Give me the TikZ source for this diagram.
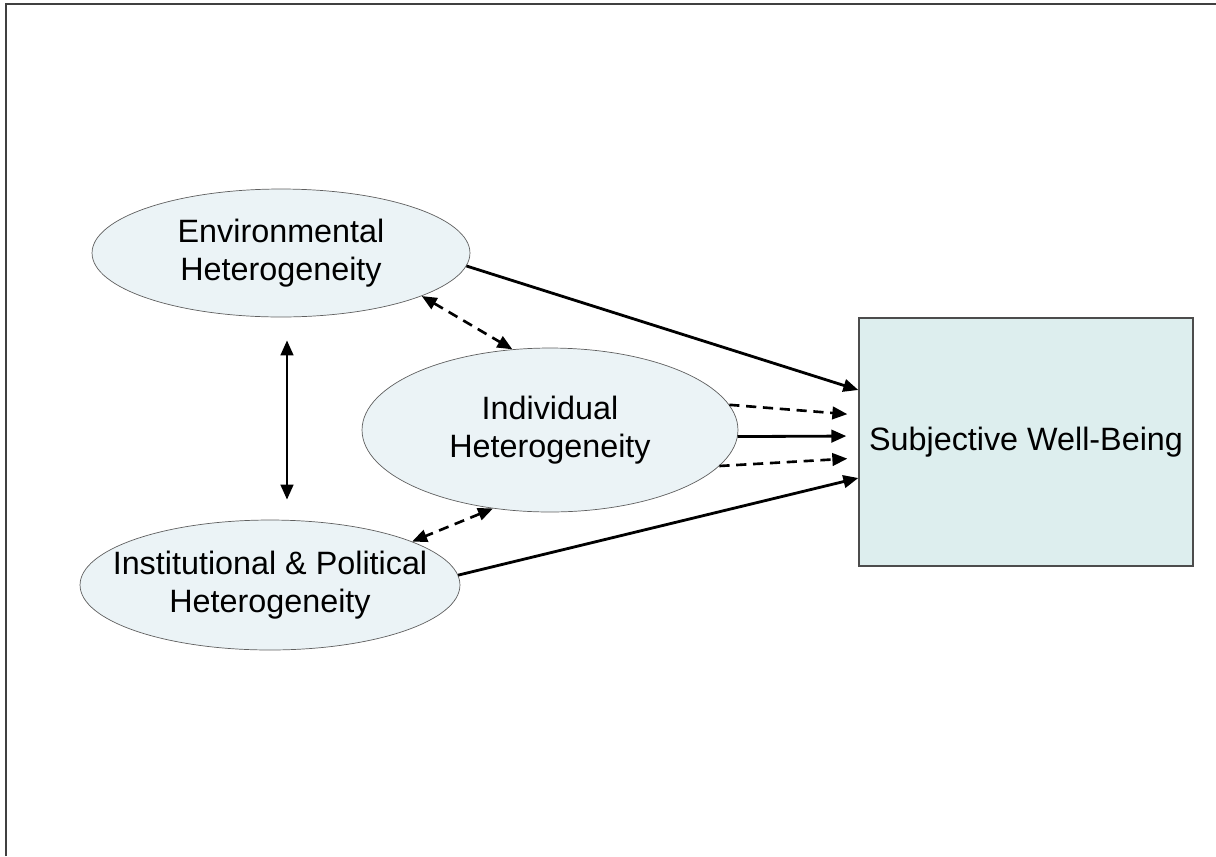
\documentclass[tikz,border=0pt]{standalone}
\usepackage{fontspec}
\setmainfont{Liberation Sans}
\usetikzlibrary{shapes.geometric,arrows.meta}
\definecolor{ovalfill}{RGB}{235,243,246}
\definecolor{boxfill}{RGB}{221,238,238}
\definecolor{rimgray}{RGB}{95,95,95}
\def\drawsolid{\draw[line width=1.6pt]}
\def\drawdashed{\draw[line width=1.5pt,dash pattern=on 5.8pt off 3.8pt]}
\def\heteronode{\node[ellipse,draw=rimgray,fill=ovalfill,inner sep=0pt,minimum width=7.56cm,minimum height=2.56cm]}

\begin{document}
\begin{tikzpicture}[x=0.02cm,y=-0.02cm,font=\fontsize{18.4}{22}\selectfont,>={Triangle[length=0.3cm,width=0.25cm]}]
\useasboundingbox (0,0) rectangle (1216,856);
\draw[line width=1.2pt,color=black!75] (6,856) -- (6,4) -- (1216,4);
\heteronode (env) at (281,253) [label={[align=center]center:Environmental\\Heterogeneity}] {};
\heteronode (indiv) at (550,430) [minimum width=7.52cm,minimum height=3.28cm,label={[align=center]center:Individual\\Heterogeneity}] {};
\heteronode (inst) at (270,585) [minimum width=7.6cm,minimum height=2.6cm,label={[align=center]center:Institutional \& Political\\Heterogeneity}] {};
\node[draw=black!70,fill=boxfill,line width=0.8pt,minimum width=6.68cm,minimum height=4.96cm] (swb) at (1026,442) {Subjective Well-Being};
\drawsolid[<->] ([shift={(6,23)}]env.south) -- ([shift={(17,-20)}]inst.north);
\drawdashed[<->] (env.-17.6) -- (indiv.115);
\drawdashed[<->] (indiv.234) -- (inst.17);
\drawsolid[->] (env.-4) -- (swb.west |- 0,390);
\drawsolid[->] (inst.3) -- (swb.west |- 0,478);
\drawdashed[->,shorten >=0.22cm] (indiv.8) -- (swb.west |- 0,415);
\drawsolid[->,shorten >=0.24cm] (indiv.-2) -- (swb.west |- 0,436);
\drawdashed[->,shorten >=0.22cm] (indiv.-12) -- (swb.west |- 0,458);
\end{tikzpicture}
\end{document}
